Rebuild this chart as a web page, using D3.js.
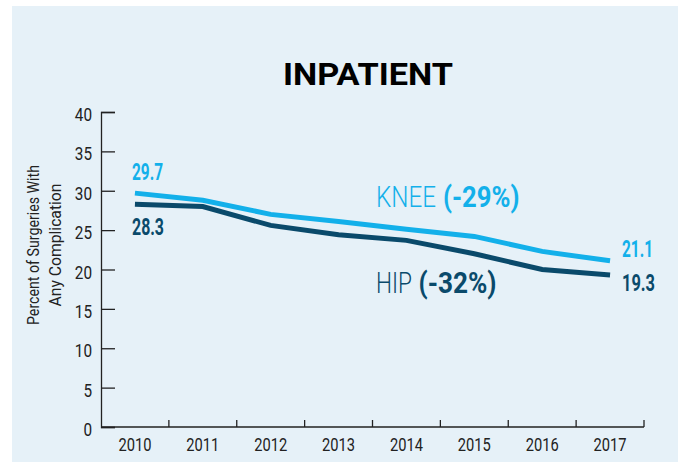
<!DOCTYPE html>
<html><head><meta charset="utf-8">
<script src="https://cdn.jsdelivr.net/npm/d3@7"></script>
<style>
body{margin:0;background:#fff;}
text{font-family:Roboto,"DejaVu Sans Condensed",sans-serif;}
</style></head>
<body><svg id="c" width="678" height="462"></svg>
<script>
const years = ["2010","2011","2012","2013","2014","2015","2016","2017"];
const knee = [29.7,28.8,27.0,26.1,25.1,24.2,22.3,21.1];
const hip = [28.3,28.0,25.6,24.4,23.7,22.0,20.0,19.3];
const yTicks = [0,5,10,15,20,25,30,35,40];
const kneeColor = "#13b0ea", hipColor = "#0a4a6b";

const svg = d3.select("#c");
svg.append("rect").attr("x",12).attr("y",6).attr("width",666).attr("height",456).attr("fill","#e6f1f8");

const x = d3.scaleBand().domain(years).range([101,644]);
const y = d3.scaleLinear().domain([0,40]).range([427,112]);
const cx = i=>x(years[i])+x.bandwidth()/2;

// helper: condensed text via textLength
function txt(g, s, px, py, size, w, opts={}) {
  const t = g.append("text").attr("x",px).attr("y",py).attr("font-size",size)
    .attr("fill",opts.fill||"#222").attr("font-weight",opts.weight||400)
    .attr("text-anchor",opts.anchor||"start")
    .attr("textLength",w).attr("lengthAdjust","spacingAndGlyphs").text(s);
  return t;
}

// y axis
const ya = svg.append("g").attr("transform","translate(101,0)")
  .call(d3.axisRight(y).tickValues(yTicks).tickSize(14).tickFormat(""));
ya.select(".domain").attr("stroke","#222").attr("stroke-width",1.3);
ya.selectAll(".tick line").attr("stroke","#222").attr("stroke-width",1.3);
const yl = svg.append("g");
yTicks.forEach(d=>txt(yl, String(d), 92, y(d)+9, 19, String(d).length*8.6, {anchor:"end"}));

// x axis
svg.append("line").attr("x1",101).attr("x2",644).attr("y1",427).attr("y2",427)
  .attr("stroke","#222").attr("stroke-width",1.3);
svg.append("g").selectAll("line").data(years).join("line")
  .attr("x1",d=>x(d)+x.bandwidth()).attr("x2",d=>x(d)+x.bandwidth())
  .attr("y1",427).attr("y2",420).attr("stroke","#222").attr("stroke-width",1.3);
const xl = svg.append("g");
years.forEach((d,i)=>txt(xl, d, cx(i), 450.5, 19, 33, {anchor:"middle"}));

// y axis title
const yt = svg.append("g").attr("transform","translate(0,245) rotate(-90)");
txt(yt, "Percent of Surgeries With", 0, 39, 16.5, 160, {anchor:"middle"});
txt(yt, "Any Complication", 0, 61, 16.5, 123, {anchor:"middle"});

// title
txt(svg, "INPATIENT", 368, 85, 32, 170, {anchor:"middle", weight:700, fill:"#000"});

// lines
const line = d3.line().x((d,i)=>cx(i)).y(d=>y(d));
svg.append("path").datum(hip).attr("d",line).attr("fill","none")
  .attr("stroke",hipColor).attr("stroke-width",5);
svg.append("path").datum(knee).attr("d",line).attr("fill","none")
  .attr("stroke",kneeColor).attr("stroke-width",5);

// end labels
txt(svg, knee[0].toFixed(1), 132, 179.5, 24.5, 31, {weight:700, fill:kneeColor});
txt(svg, hip[0].toFixed(1), 132, 235, 24.5, 32, {weight:700, fill:hipColor});
txt(svg, knee[7].toFixed(1), 622, 257, 24.5, 31, {weight:700, fill:kneeColor});
txt(svg, hip[7].toFixed(1), 622, 291, 24.5, 33, {weight:700, fill:hipColor});

// series labels with percent change computed from data
const pct = a => Math.round((a[a.length-1]-a[0])/a[0]*100);
txt(svg, "KNEE", 376, 207, 29.5, 60, {fill:kneeColor, weight:300});
txt(svg, "(" + pct(knee) + "%)", 443, 207, 29.5, 76.5, {fill:kneeColor, weight:700});
txt(svg, "HIP", 376, 293, 29.5, 36, {fill:hipColor, weight:300});
txt(svg, "(" + pct(hip) + "%)", 418.5, 293, 29.5, 78, {fill:hipColor, weight:700});
</script></body></html>
